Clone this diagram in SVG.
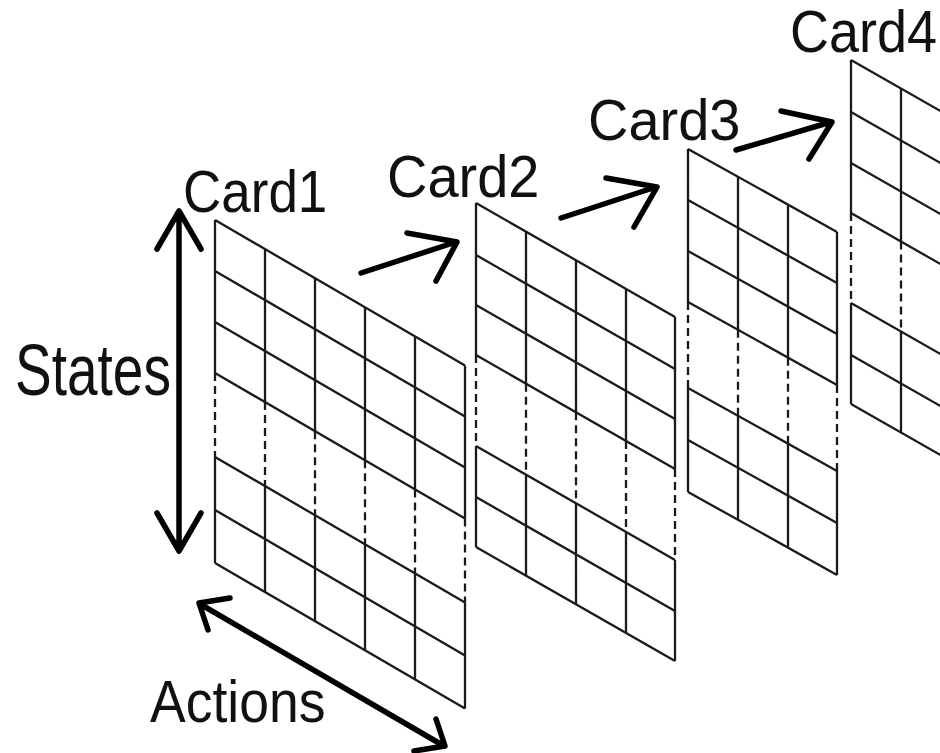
<svg xmlns="http://www.w3.org/2000/svg" width="940" height="753" viewBox="0 0 940 753">
<style>
.bg{fill:#ffffff}
.grid{fill:none;stroke:#1a1a1a;stroke-width:2.3;vector-effect:non-scaling-stroke}
.dash{fill:none;stroke:#1a1a1a;stroke-width:2.3;stroke-dasharray:8 5;vector-effect:non-scaling-stroke}
.arr{fill:none;stroke:#000;stroke-width:5.5;stroke-linecap:round;stroke-linejoin:round}
.lbl{font-family:"Liberation Sans",Arial,sans-serif;fill:#111}
</style>
<rect class="bg" x="0" y="0" width="940" height="753"/>

<g id="card1">
  <g transform="translate(215,220) skewY(30.2)">
    <path class="grid" d="M0 0H250M0 51H250M0 102H250M0 153H250M0 237H250M0 290H250M0 343H250"/>
    <path class="grid" d="M0 0V153M0 237V343M50 0V153M50 237V343M100 0V153M100 237V343M150 0V153M150 237V343M200 0V153M200 237V343M250 0V153M250 237V343"/>
    <path class="dash" d="M0 153V237M50 153V237M100 153V237M150 153V237M200 153V237M250 153V237"/>
  </g>
  <text class="lbl" font-size="53" transform="translate(183,212) scale(1,1.1)">Card1</text>
</g>

<g id="card2">
  <g transform="translate(476,203) skewY(29.8)">
    <path class="grid" d="M0 0H199M0 52H199M0 102H199M0 152H199M0 243H199M0 294H199M0 344H199"/>
    <path class="grid" d="M0 0V152M0 243V344M50 0V152M50 243V344M100 0V152M100 243V344M150 0V152M150 243V344M199 0V152M199 243V344"/>
    <path class="dash" d="M0 152V243M50 152V243M100 152V243M150 152V243M199 152V243"/>
  </g>
  <text class="lbl" font-size="56" transform="translate(387,197) scale(1,1.05)">Card2</text>
</g>

<g id="card3">
  <g transform="translate(688,149) skewY(29.1)">
    <path class="grid" d="M0 0H149M0 51H149M0 102H149M0 153H149M0 239H149M0 291H149M0 343H149"/>
    <path class="grid" d="M0 0V153M0 239V343M50 0V153M50 239V343M100 0V153M100 239V343M149 0V153M149 239V343"/>
    <path class="dash" d="M0 153V239M50 153V239M100 153V239M149 153V239"/>
  </g>
  <text class="lbl" font-size="56" transform="translate(588,140) scale(1,1.02)">Card3</text>
</g>

<g id="card4">
  <g transform="translate(851,60) skewY(29.7)">
    <path class="grid" d="M0 0H150M0 52H150M0 103H150M0 153H150M0 243H150M0 295H150M0 344H150"/>
    <path class="grid" d="M0 0V153M0 243V344M50 0V153M50 243V344M100 0V153M100 243V344"/>
    <path class="dash" d="M0 153V243M50 153V243M100 153V243"/>
  </g>
  <text class="lbl" font-size="54" transform="translate(790,52) scale(1,1.09)">Card4</text>
</g>

<g id="states">
  <text class="lbl" font-size="55" transform="translate(15,395) scale(1,1.3)">States</text>
</g>

<g id="actions">
  <text class="lbl" font-size="53.5" transform="translate(150,722) scale(1,1.1)">Actions</text>
</g>

<g id="connectors">
  <path class="arr" d="M179 213V550M157 249L179 211L201 249M157 513L179 551L201 513"/>
  <path class="arr" d="M200 604L444 746M230 598L199 603L208 630M414 751L445 746L436 719"/>
  <path class="arr" d="M361 273L456 242M407 233L457 242L436 281"/>
  <path class="arr" d="M561 218L656 187M606 178L657 187L634 227"/>
  <path class="arr" d="M736 150L831 122M781 111L832 122L809 159"/>
</g>
</svg>
